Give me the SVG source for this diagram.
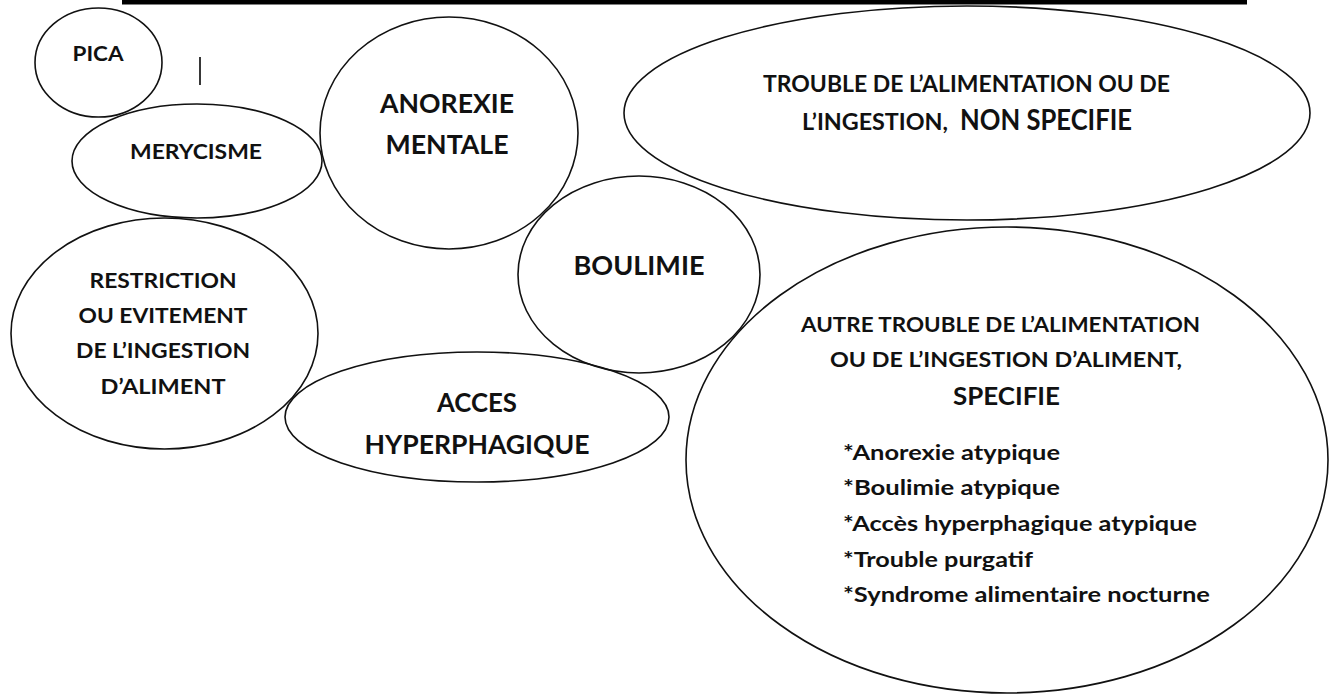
<svg xmlns="http://www.w3.org/2000/svg" width="1330" height="695" viewBox="0 0 1330 695">
<style>
.e{fill:none;stroke:#111;stroke-width:1.6}
text{font-family:Lato,"Open Sans","Liberation Sans",sans-serif;font-weight:700;fill:#111}
.s{font-size:21.5px;text-anchor:middle}
.m{font-size:27.5px;text-anchor:middle}
.b{font-size:21px}
</style>
<rect x="122" y="0" width="1125" height="4.5" fill="#000"/>
<line x1="200" y1="57" x2="200" y2="85" stroke="#222" stroke-width="1.8"/>
<g id="pica"><ellipse class="e" cx="98.5" cy="62.5" rx="63.5" ry="54.5"/><text class="s" x="98" y="61" textLength="51" lengthAdjust="spacingAndGlyphs">PICA</text></g>
<g id="merycisme"><ellipse class="e" cx="197" cy="161" rx="125" ry="57"/><text class="s" x="196" y="159" textLength="132" lengthAdjust="spacingAndGlyphs">MERYCISME</text></g>
<g id="restriction"><ellipse class="e" cx="164.5" cy="333.5" rx="153.5" ry="115.5"/>
<text class="s" x="163" y="288" textLength="147" lengthAdjust="spacingAndGlyphs">RESTRICTION</text>
<text class="s" x="163" y="323" textLength="169" lengthAdjust="spacingAndGlyphs">OU EVITEMENT</text>
<text class="s" x="163" y="358" textLength="174" lengthAdjust="spacingAndGlyphs">DE L’INGESTION</text>
<text class="s" x="163" y="394" textLength="125" lengthAdjust="spacingAndGlyphs">D’ALIMENT</text></g>
<g id="anorexie"><ellipse class="e" cx="449" cy="133" rx="129" ry="116"/>
<text class="m" x="447" y="113" textLength="134" lengthAdjust="spacingAndGlyphs">ANOREXIE</text>
<text class="m" x="447" y="154" textLength="123" lengthAdjust="spacingAndGlyphs">MENTALE</text></g>
<g id="boulimie"><ellipse class="e" cx="639" cy="274.5" rx="121" ry="98.5"/>
<text class="m" x="639" y="275" textLength="131" lengthAdjust="spacingAndGlyphs">BOULIMIE</text></g>
<g id="acces"><ellipse class="e" cx="477" cy="417" rx="192" ry="65"/>
<text class="m" x="477" y="412" textLength="80" lengthAdjust="spacingAndGlyphs">ACCES</text>
<text class="m" x="477" y="454" textLength="225" lengthAdjust="spacingAndGlyphs">HYPERPHAGIQUE</text></g>
<g id="non-specifie"><ellipse class="e" cx="967" cy="113" rx="343" ry="107"/>
<text x="763" y="92" font-size="23" textLength="407" lengthAdjust="spacingAndGlyphs">TROUBLE DE L’ALIMENTATION OU DE</text>
<text x="802" y="130" font-size="23" textLength="146" lengthAdjust="spacingAndGlyphs">L’INGESTION,</text>
<text x="960" y="130" font-size="29" textLength="172" lengthAdjust="spacingAndGlyphs">NON SPECIFIE</text></g>
<g id="autre-specifie"><ellipse class="e" cx="1007" cy="460" rx="321" ry="233"/>
<text x="801" y="332" font-size="21" textLength="399" lengthAdjust="spacingAndGlyphs">AUTRE TROUBLE DE L’ALIMENTATION</text>
<text x="830" y="367" font-size="21" textLength="352" lengthAdjust="spacingAndGlyphs">OU DE L’INGESTION D’ALIMENT,</text>
<text x="953" y="405" font-size="25" textLength="107" lengthAdjust="spacingAndGlyphs">SPECIFIE</text>
<text class="b" x="843" y="460" textLength="217" lengthAdjust="spacingAndGlyphs">*Anorexie atypique</text>
<text class="b" x="843" y="495" textLength="217" lengthAdjust="spacingAndGlyphs">*Boulimie atypique</text>
<text class="b" x="843" y="531" textLength="354" lengthAdjust="spacingAndGlyphs">*Accès hyperphagique atypique</text>
<text class="b" x="843" y="567" textLength="190" lengthAdjust="spacingAndGlyphs">*Trouble purgatif</text>
<text class="b" x="843" y="602" textLength="367" lengthAdjust="spacingAndGlyphs">*Syndrome alimentaire nocturne</text></g>
<g id="connectors"/>
</svg>
